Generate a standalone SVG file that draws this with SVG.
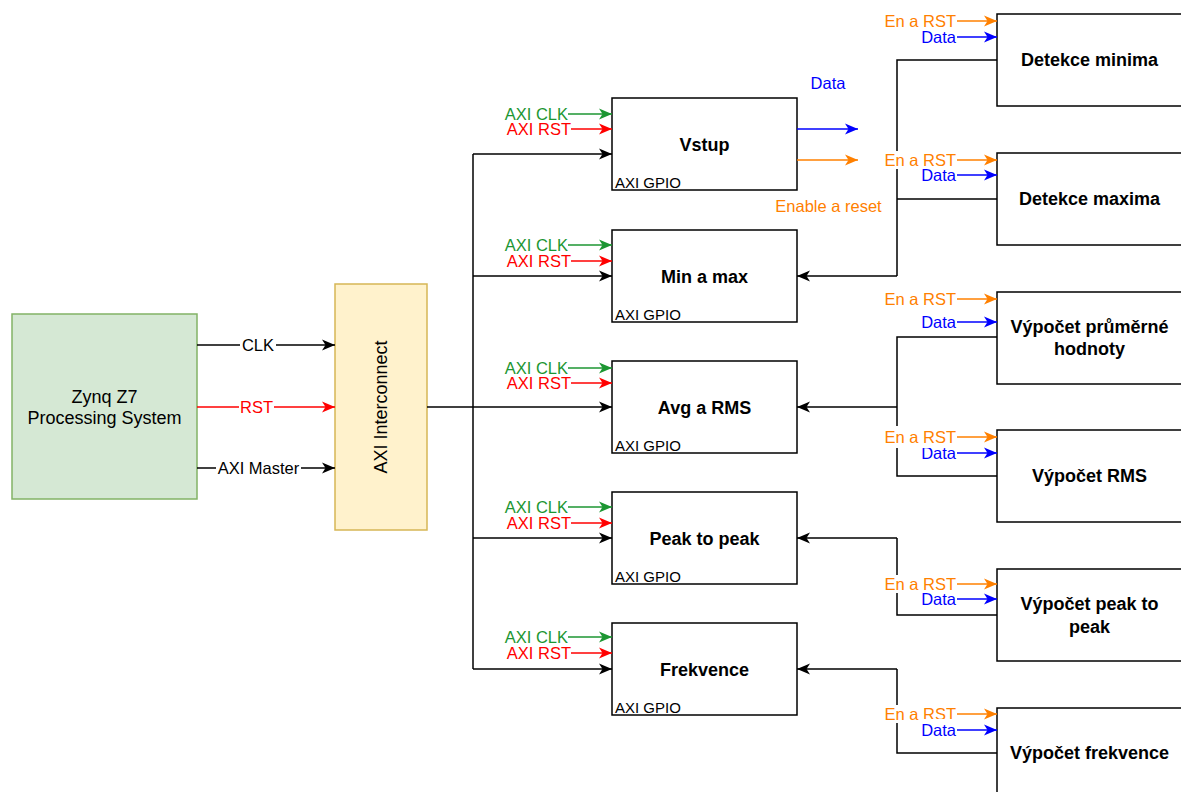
<svg xmlns="http://www.w3.org/2000/svg" width="1181" height="792" viewBox="0 0 1181 792">
<style>
text{font-family:"Liberation Sans",Arial,sans-serif}
.box{fill:#fff;stroke:#000;stroke-width:1.5}
.t{font-size:18px;font-weight:bold;text-anchor:middle;fill:#000}
.sm{font-size:15px;fill:#000}
.lb{font-size:16.5px}
.end{text-anchor:end}
.mid{text-anchor:middle}
.k{stroke:#000;stroke-width:1.5;fill:none}
.r{stroke:#ff0000;stroke-width:1.5;fill:none}
.g{stroke:#1c9632;stroke-width:1.5;fill:none}
.b{stroke:#0000ff;stroke-width:1.5;fill:none}
.o{stroke:#ff8000;stroke-width:1.5;fill:none}
.ak{marker-end:url(#mk)}
.ar{marker-end:url(#mr)}
.ag{marker-end:url(#mg)}
.ab{marker-end:url(#mb)}
.ao{marker-end:url(#mo)}
.fr{fill:#ff0000}.fg{fill:#1c9632}.fb{fill:#0000ff}.fo{fill:#ff8000}.fk{fill:#000}
.bg{fill:#fff}
</style>
<defs>
<marker id="mk" markerUnits="userSpaceOnUse" markerWidth="14" markerHeight="12" refX="13" refY="6" orient="auto"><path d="M0,0.5 L13,6 L0,11.5 L3.5,6 Z" fill="#000"/></marker>
<marker id="mr" markerUnits="userSpaceOnUse" markerWidth="14" markerHeight="12" refX="13" refY="6" orient="auto"><path d="M0,0.5 L13,6 L0,11.5 L3.5,6 Z" fill="#ff0000"/></marker>
<marker id="mg" markerUnits="userSpaceOnUse" markerWidth="14" markerHeight="12" refX="13" refY="6" orient="auto"><path d="M0,0.5 L13,6 L0,11.5 L3.5,6 Z" fill="#1c9632"/></marker>
<marker id="mb" markerUnits="userSpaceOnUse" markerWidth="14" markerHeight="12" refX="13" refY="6" orient="auto"><path d="M0,0.5 L13,6 L0,11.5 L3.5,6 Z" fill="#0000ff"/></marker>
<marker id="mo" markerUnits="userSpaceOnUse" markerWidth="14" markerHeight="12" refX="13" refY="6" orient="auto"><path d="M0,0.5 L13,6 L0,11.5 L3.5,6 Z" fill="#ff8000"/></marker>
</defs>
<rect width="1181" height="792" fill="#fff"/>

<!-- Nodes -->
<g id="zynq">
<rect x="12" y="314" width="185" height="185" fill="#d5e8d4" stroke="#82b366" stroke-width="1.5"/>
<text x="104.5" y="403" font-size="18" text-anchor="middle">Zynq Z7</text>
<text x="104.5" y="424" font-size="18" text-anchor="middle">Processing System</text>
</g>
<g id="interconnect">
<rect x="335" y="284" width="92" height="246" fill="#fff2cc" stroke="#d6b656" stroke-width="1.5"/>
<text x="381" y="413.4" font-size="18" text-anchor="middle" transform="rotate(-90 381 407)">AXI Interconnect</text>
</g>

<g id="vstup"><rect class="box" x="612" y="98" width="185" height="92"/><text class="t" x="704.5" y="150.5">Vstup</text><text class="sm" x="615" y="188">AXI GPIO</text></g>
<g id="minmax"><rect class="box" x="612" y="230" width="185" height="92"/><text class="t" x="704.5" y="282.5">Min a max</text><text class="sm" x="615" y="320">AXI GPIO</text></g>
<g id="avgrms"><rect class="box" x="612" y="361" width="185" height="92"/><text class="t" x="704.5" y="413.5">Avg a RMS</text><text class="sm" x="615" y="451">AXI GPIO</text></g>
<g id="peak"><rect class="box" x="612" y="492" width="185" height="92"/><text class="t" x="704.5" y="544.5">Peak to peak</text><text class="sm" x="615" y="582">AXI GPIO</text></g>
<g id="frek"><rect class="box" x="612" y="623" width="185" height="92"/><text class="t" x="704.5" y="675.5">Frekvence</text><text class="sm" x="615" y="713">AXI GPIO</text></g>

<g id="detmin"><rect class="box" x="997" y="14" width="185" height="92"/><text class="t" x="1089.5" y="66.4">Detekce minima</text></g>
<g id="detmax"><rect class="box" x="997" y="153" width="185" height="92"/><text class="t" x="1089.5" y="205.4">Detekce maxima</text></g>
<g id="prumer"><rect class="box" x="997" y="292" width="185" height="92"/><text class="t" x="1089.5" y="333.4">Výpočet průměrné</text><text class="t" x="1089.5" y="355.4">hodnoty</text></g>
<g id="rms"><rect class="box" x="997" y="430" width="185" height="92"/><text class="t" x="1089.5" y="482.4">Výpočet RMS</text></g>
<g id="p2p"><rect class="box" x="997" y="569" width="185" height="92"/><text class="t" x="1089.5" y="610.4">Výpočet peak to</text><text class="t" x="1089.5" y="633.4">peak</text></g>
<g id="vfrek"><rect class="box" x="997" y="708" width="185" height="92"/><text class="t" x="1089.5" y="759.4">Výpočet frekvence</text></g>

<!-- Connectors -->
<g id="connectors">
<!-- Zynq to interconnect -->
<path class="k ak" d="M197,345 H335"/>
<rect class="bg" x="240" y="336" width="36" height="18"/>
<text class="lb mid fk" x="258" y="351">CLK</text>
<path class="r ar" d="M197,407 H335"/>
<rect class="bg" x="239" y="398" width="35" height="18"/>
<text class="lb mid fr" x="256.5" y="413">RST</text>
<path class="k ak" d="M197,468 H335"/>
<rect class="bg" x="216" y="459" width="85" height="18"/>
<text class="lb mid fk" x="258.5" y="474">AXI Master</text>

<!-- interconnect to GPIOs -->
<path class="k ak" d="M427,407 H612"/>
<path class="k" d="M473,154 V669"/>
<path class="k ak" d="M473,154 H612"/>
<path class="k ak" d="M473,276 H612"/>
<path class="k ak" d="M473,538 H612"/>
<path class="k ak" d="M473,669 H612"/>

<!-- AXI CLK / RST -->
<g>
<text class="lb end fg" x="568" y="120">AXI CLK</text><path class="g ag" d="M568,114 H612"/>
<text class="lb end fr" x="571" y="135">AXI RST</text><path class="r ar" d="M571,129 H612"/>
<text class="lb end fg" x="568" y="251">AXI CLK</text><path class="g ag" d="M568,245 H612"/>
<text class="lb end fr" x="571" y="267">AXI RST</text><path class="r ar" d="M571,261 H612"/>
<text class="lb end fg" x="568" y="374">AXI CLK</text><path class="g ag" d="M568,368 H612"/>
<text class="lb end fr" x="571" y="389">AXI RST</text><path class="r ar" d="M571,383 H612"/>
<text class="lb end fg" x="568" y="513">AXI CLK</text><path class="g ag" d="M568,507 H612"/>
<text class="lb end fr" x="571" y="529">AXI RST</text><path class="r ar" d="M571,523 H612"/>
<text class="lb end fg" x="568" y="643">AXI CLK</text><path class="g ag" d="M568,637 H612"/>
<text class="lb end fr" x="571" y="659">AXI RST</text><path class="r ar" d="M571,653 H612"/>
</g>

<!-- Vstup outputs -->
<path class="b ab" d="M797,129 H858"/>
<path class="o ao" d="M797,160 H858"/>
<text class="lb mid fb" x="828" y="89">Data</text>
<text class="lb mid fo" x="828.5" y="212">Enable a reset</text>

<!-- Right side returns -->
<path class="k" d="M997,60 H897 V276"/>
<path class="k" d="M997,199 H897"/>
<path class="k ak" d="M897,276 H797"/>
<path class="k" d="M997,337 H897 V476 H997"/>
<path class="k ak" d="M897,407 H797"/>
<path class="k" d="M997,615 H897 V538"/>
<path class="k ak" d="M897,538 H797"/>
<path class="k" d="M997,753 H897 V669"/>
<path class="k ak" d="M897,669 H797"/>

<!-- En a RST / Data inputs -->
<text class="lb end fo" x="956" y="27">En a RST</text><path class="o ao" d="M957,21 H997"/>
<text class="lb end fb" x="956" y="43">Data</text><path class="b ab" d="M957,37 H997"/>

<rect class="bg" x="883" y="151" width="74" height="18"/>
<text class="lb end fo" x="956" y="166">En a RST</text><path class="o ao" d="M957,160 H997"/>
<text class="lb end fb" x="956" y="181">Data</text><path class="b ab" d="M957,175 H997"/>

<text class="lb end fo" x="956" y="305">En a RST</text><path class="o ao" d="M957,299 H997"/>
<text class="lb end fb" x="956" y="328">Data</text><path class="b ab" d="M957,322 H997"/>

<text class="lb end fb" x="956" y="459">Data</text><path class="b ab" d="M957,453 H997"/>
<rect class="bg" x="883" y="426" width="74" height="22"/>
<text class="lb end fo" x="956" y="443">En a RST</text><path class="o ao" d="M957,437 H997"/>

<rect class="bg" x="883" y="575" width="74" height="18"/>
<text class="lb end fo" x="956" y="590">En a RST</text><path class="o ao" d="M957,584 H997"/>
<text class="lb end fb" x="956" y="605">Data</text><path class="b ab" d="M957,599 H997"/>

<rect class="bg" x="883" y="705" width="74" height="18"/>
<text class="lb end fo" x="956" y="720">En a RST</text><path class="o ao" d="M957,714 H997"/>
<rect class="bg" x="919" y="719" width="38" height="22"/>
<text class="lb end fb" x="956" y="736">Data</text><path class="b ab" d="M957,730 H997"/>
</g>
</svg>
